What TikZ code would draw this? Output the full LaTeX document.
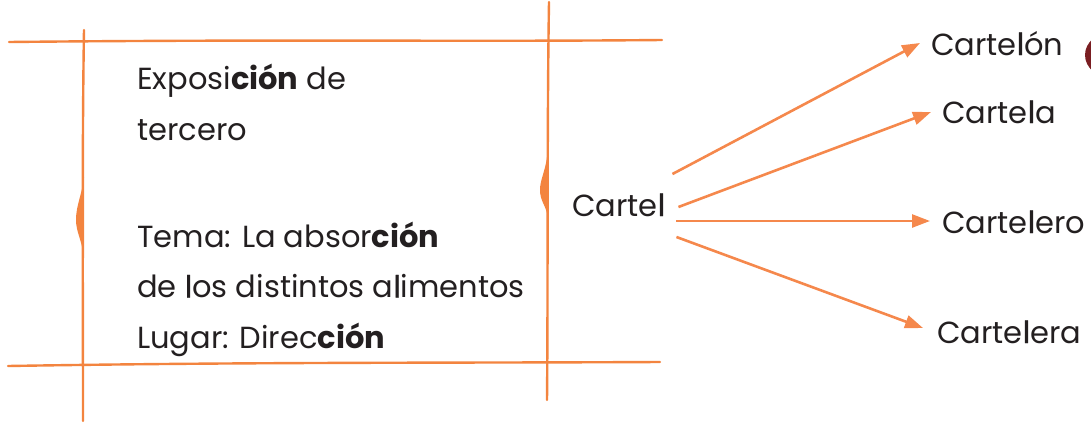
\documentclass[tikz,border=0pt]{standalone}
\usepackage{fontspec}
\setmainfont{Poppins}
\newfontface\heavyl[FakeBold=0.8]{Poppins}
\usepackage{tikz}
\usetikzlibrary{arrows.meta,positioning}
\definecolor{FrameOrange}{HTML}{F3843F}
\definecolor{ArrowOrange}{HTML}{F5884C}
\definecolor{InkGray}{HTML}{231F20}
\definecolor{BadgeRed}{HTML}{7A1E22}
\newcommand{\Lthick}{{\heavyl l}}

\begin{document}
\begin{tikzpicture}[
    x=1pt,y=-1pt,
    frame/.style={draw=FrameOrange,line width=2.4pt,line cap=round},
    bulge/.style={fill=FrameOrange,draw=none},
    txt/.style={inner sep=0pt,anchor=base west,align=left,text=InkGray,
      font=\fontsize{30.5}{50.5}\selectfont},
    word/.style={inner sep=0pt,anchor=base west,text=InkGray,
      font=\fontsize{30.5}{36}\selectfont},
    arr/.style={-{Triangle[length=18pt,width=13pt]},line width=2.6pt,draw=ArrowOrange}
  ]
    \useasboundingbox (0,0) rectangle (1091,423);
    % hand drawn frame
    \draw[frame] (9,42) .. controls (300,39) and (450,42) .. (662,40);
    \draw[frame] (8,366) .. controls (250,362) and (450,363) .. (660,362);
    \draw[frame] (84,30) .. controls (82,150) and (83,300) .. (83,421);
    \draw[frame] (549,2) .. controls (547,120) and (548,300) .. (547,400);
    \fill[bulge] (84,177) .. controls (82,195) and (76,205) .. (76,220)
      .. controls (76,232) and (82,240) .. (84,258) -- cycle;
    \fill[bulge] (547,157) .. controls (545,172) and (540,180) .. (540,190)
      .. controls (540,200) and (545,205) .. (547,213) -- cycle;
    \fill[BadgeRed] (1112,55) ellipse [x radius=27,y radius=23];
    % text in the frame
    \node[txt] (expo) at (137,140) {Exposi\textbf{ción} de\\tercero};
    \node[txt] (tema) at (137,348) {Tema: La absor\textbf{ción}\\de \Lthick os distintos a\Lthick imentos\\Lugar: Direc\textbf{ción}};
    % words
    \node[word] (cartel) at (572,216) {Carte\Lthick};
    \node[word] (cartelon) at (931,55) {Carte\Lthick ón};
    \node[word] (cartela) at (942,123) {Carte\Lthick a};
    \node[word] (cartelero) at (942,233) {Carte\Lthick ero};
    \node[word] (cartelera) at (937,343) {Carte\Lthick era};
    \draw[arr] ([shift={(7,-42)}]cartel.base east) -- ([shift={(-11,-12)}]cartelon.base west);
    \draw[arr] ([shift={(13,-9)}]cartel.base east) -- ([shift={(-11,-11)}]cartela.base west);
    \draw[arr] ([shift={(11,5)}]cartel.base east) -- ([shift={(-12,-12)}]cartelero.base west);
    \draw[arr] ([shift={(11,21)}]cartel.base east) -- ([shift={(-14,-15)}]cartelera.base west);
  \end{tikzpicture}
\end{document}
